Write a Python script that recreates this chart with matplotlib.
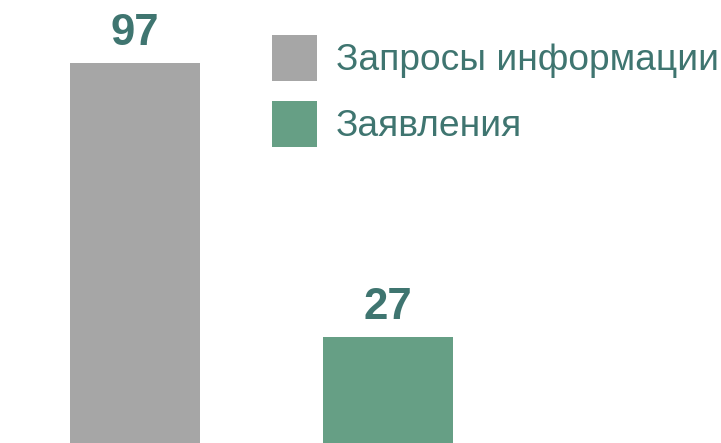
import matplotlib
matplotlib.use("Agg")
import matplotlib.pyplot as plt
from matplotlib.patches import Patch

categories = ["Запросы информации", "Заявления"]
values = [97, 27]
colors = ["#a6a6a6", "#669f85"]
text_color = "#3f7570"

plt.rcParams['font.family'] = ['Liberation Sans', 'DejaVu Sans']

fig = plt.figure(figsize=(7.21, 4.43), dpi=100)
ax = fig.add_axes([0, 0, 1, 1])
x = [0, 1]
bars = ax.bar(x, values, width=0.514, color=colors, linewidth=0)
for xi, v in zip(x, values):
    ax.text(xi, v + 4.7, str(v), ha='center', va='baseline', fontsize=31.5,
            fontweight='bold', color=text_color)
ax.set_xlim(-0.534, 2.316)
ax.set_ylim(0, 113.1)
ax.axis('off')

handles = [Patch(facecolor=c, edgecolor='none', label=l) for c, l in zip(colors, categories)]
leg = ax.legend(handles=handles, loc='upper left', bbox_to_anchor=(272 / 721, 1 - 35 / 443),
                bbox_transform=fig.transFigure, frameon=False, fontsize=26.7,
                handlelength=1.22, handleheight=1.52, handletextpad=0.5,
                labelspacing=0.55, borderpad=0, borderaxespad=0)
for t in leg.get_texts():
    t.set_color(text_color)

fig.savefig("out.png", dpi=100)
